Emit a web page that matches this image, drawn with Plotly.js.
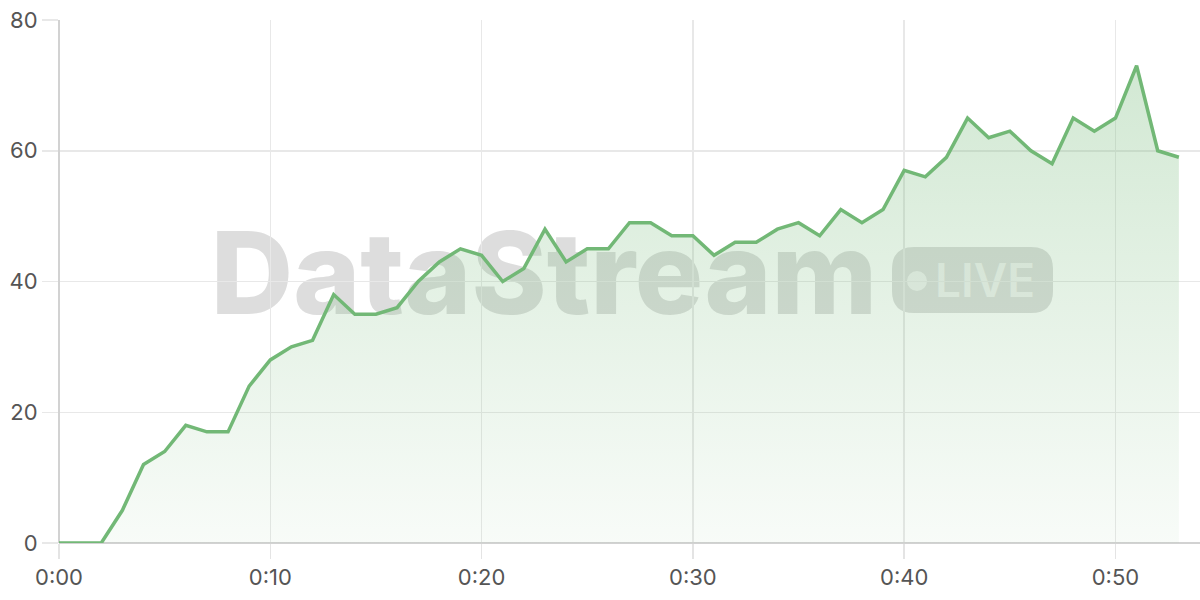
<!DOCTYPE html>
<html>
<head>
<meta charset="utf-8">
<script src="https://cdn.plot.ly/plotly-3.0.1.min.js"></script>
<style>
  html, body { margin: 0; padding: 0; background: #fff; }
  #chart { width: 1200px; height: 600px; }
</style>
</head>
<body>
<div id="chart"></div>
<script>
// elapsed seconds, one reading per second
var seconds = []
for (var i = 0; i <= 53; i++) seconds.push(i)

var viewers = [0, 0, 0, 5, 12, 14, 18, 17, 17, 24,
               28, 30, 31, 38, 35, 35, 36, 40, 43, 45,
               44, 40, 42, 48, 43, 45, 45, 49, 49, 47,
               47, 44, 46, 46, 48, 49, 47, 51, 49, 51,
               57, 56, 59, 65, 62, 63, 60, 58, 65, 63,
               65, 73, 60, 59]

var x_tick_vals = [0, 10, 20, 30, 40, 50]
var x_tick_text = ["0:00", "0:10", "0:20", "0:30", "0:40", "0:50"]
var y_tick_vals = [0, 20, 40, 60, 80]

var brand_text = "DataStream"
var badge_text = "LIVE"

// plot box in pixels, used to place the watermark
var L = 59, R = 1200, T = 20, B = 543
function px(x){ return (x - L) / (R - L) }
function py(y){ return (B - y) / (B - T) }

// rounded rectangle path in paper units
function pill(x0, y0, x1, y1, r){
    var rx = r / (R - L), ry = r / (B - T)
    var a = px(x0), b = px(x1), top = py(y0), bot = py(y1)
    return `M ${a+rx},${bot} L ${b-rx},${bot} Q ${b},${bot} ${b},${bot+ry} ` +
           `L ${b},${top-ry} Q ${b},${top} ${b-rx},${top} L ${a+rx},${top} ` +
           `Q ${a},${top} ${a},${top-ry} L ${a},${bot+ry} Q ${a},${bot} ${a+rx},${bot} Z`
}

var trace = {
    x: seconds,
    y: viewers,
    type: 'scatter',
    mode: 'lines',
    line: {color: '#72b876', width: 3.5},
    fill: 'tozeroy',
    fillgradient: {
        type: 'vertical',
        colorscale: [[0, 'rgba(114,184,118,0.05)'], [1, 'rgba(114,184,118,0.32)']]
    },
    hoverinfo: 'skip'
}

var watermark_grey = 'rgba(128,128,128,0.27)'

var layout = {
    width: 1200,
    height: 600,
    margin: {l: L, r: 1200 - R, t: T, b: 600 - B},
    paper_bgcolor: '#ffffff',
    plot_bgcolor: '#ffffff',
    showlegend: false,
    font: {family: 'Inter, "Noto Sans", sans-serif', size: 22, color: '#555555'},
    xaxis: {
        range: [0, 54],
        tickvals: x_tick_vals,
        ticktext: x_tick_text,
        ticks: 'outside',
        ticklen: 15,
        tickcolor: '#e4e4e4',
        tickwidth: 1.5,
        showgrid: true,
        gridcolor: '#e8e8e8',
        gridwidth: 1.5,
        zeroline: true,
        zerolinecolor: '#d2d2d2',
        zerolinewidth: 2,
        showline: false,
        fixedrange: true
    },
    yaxis: {
        range: [0, 80],
        tickvals: y_tick_vals,
        ticks: 'outside',
        ticklen: 16,
        tickcolor: '#e8e8e8',
        tickwidth: 1.5,
        showgrid: true,
        gridcolor: '#e8e8e8',
        gridwidth: 1.5,
        zeroline: true,
        zerolinecolor: '#d2d2d2',
        zerolinewidth: 2,
        showline: false,
        fixedrange: true
    },
    shapes: [
        // big brand word
        {
            type: 'rect', xref: 'paper', yref: 'paper', layer: 'between',
            x0: px(200), x1: px(888), y0: py(216), y1: py(321),
            line: {width: 0}, fillcolor: 'rgba(0,0,0,0)',
            label: {
                text: brand_text,
                textposition: 'middle center',
                font: {family: 'Inter', size: 114, weight: 800, color: watermark_grey}
            }
        },
        // badge
        {
            type: 'path', xref: 'paper', yref: 'paper', layer: 'between',
            path: pill(892, 247, 1053, 313, 22),
            line: {width: 0}, fillcolor: watermark_grey
        },
        {
            type: 'circle', xref: 'paper', yref: 'paper', layer: 'between',
            x0: px(907), x1: px(927), y0: py(271), y1: py(291),
            line: {width: 0}, fillcolor: 'rgba(255,255,255,0.6)'
        },
        {
            type: 'rect', xref: 'paper', yref: 'paper', layer: 'between',
            x0: px(930), x1: px(1040), y0: py(249), y1: py(309),
            line: {width: 0}, fillcolor: 'rgba(0,0,0,0)',
            label: {
                text: badge_text,
                textposition: 'middle center',
                font: {family: 'Inter', size: 46, weight: 600, color: 'rgba(255,255,255,0.6)'}
            }
        }
    ]
}

Plotly.newPlot('chart', [trace], layout, {displayModeBar: false, staticPlot: true})
</script>
</body>
</html>
